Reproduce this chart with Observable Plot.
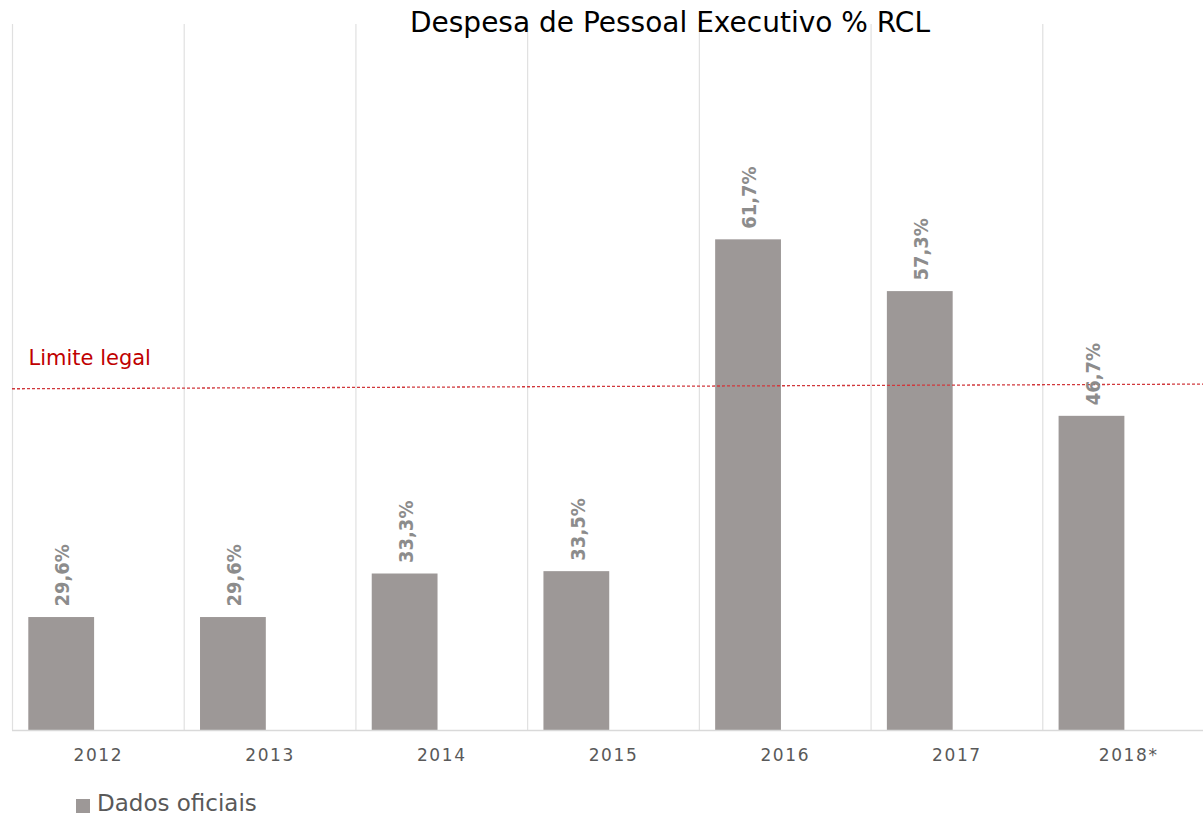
<!DOCTYPE html>
<html>
<head>
<meta charset="utf-8">
<script src="https://cdn.jsdelivr.net/npm/d3@7"></script>
<script src="https://cdn.jsdelivr.net/npm/@observablehq/plot@0.6"></script>
<style>
  html, body { margin: 0; padding: 0; background: #fff; overflow: hidden; }
  #wrap { position: relative; width: 1203px; height: 814px; }
  #title { position: absolute; top: 6px; left: 670px; transform: translateX(-50%);
    font-family: "DejaVu Sans", sans-serif; font-size: 28px; line-height: 34px;
    color: #000; white-space: nowrap; z-index: 2; }
  #legend { position: absolute; top: 792px; left: 76px; height: 22px; line-height: 22px; display: flex; align-items: center;
    font-family: "DejaVu Sans", sans-serif; font-size: 23px; color: #595959; }
  #legend .sw { width: 14px; height: 14px; background: #9d9897; margin-right: 7px; margin-top: 5px; }
  g[aria-label="x-axis tick label"] text { letter-spacing: 1.6px; }
</style>
</head>
<body>
<div id="wrap">
  <div id="chart"></div>
  <div id="title">Despesa de Pessoal Executivo % RCL</div>
  <div id="legend"><span class="sw"></span><span id="legtext"></span></div>
</div>
<script>
// Data
const years = ["2012", "2013", "2014", "2015", "2016", "2017", "2018*"];
const values = [29.6, 29.6, 33.3, 33.5, 61.7, 57.3, 46.7];
const valueLabels = ["29,6%", "29,6%", "33,3%", "33,5%", "61,7%", "57,3%", "46,7%"];
const yDomain = [20, 80];
const limitStart = 49.0;   // "Limite legal" line, value at the left edge
const limitEnd = 49.4;     // value at the right edge
const limitLabel = "Limite legal";
const seriesName = "Dados oficiais";

document.getElementById("legtext").textContent = seriesName;

const data = years.map((y, i) => ({year: y, value: values[i], label: valueLabels[i]}));

const W = 1203, H = 780;
const mL = 12, mR = -11;
const band = (W - mL - mR) / years.length;

const limitMark = Plot.ruleY([limitStart], {
  render: (index, scales, vals, dims) => {
    const g = d3.create("svg:g");
    g.append("line")
      .attr("x1", dims.marginLeft)
      .attr("x2", dims.width - dims.marginRight)
      .attr("y1", scales.y(limitStart))
      .attr("y2", scales.y(limitEnd))
      .attr("stroke", "#d0383c")
      .attr("stroke-width", 1.3)
      .attr("stroke-dasharray", "3,2");
    return g.node();
  }
});

const chart = Plot.plot({
  width: W,
  height: H,
  marginLeft: mL,
  marginRight: mR,
  marginTop: 24,
  marginBottom: 50,
  style: {background: "transparent", overflow: "visible"},
  x: {type: "band", domain: years, padding: 0, round: false, label: null},
  y: {domain: yDomain, clamp: true, axis: null},
  marks: [
    Plot.ruleX(years, {x: d => d, dx: -band / 2, stroke: "#e0e0e0", strokeWidth: 1.2}),
    Plot.barY(data, {x: "year", y: "value", fill: "#9d9897", insetLeft: 16.3, insetRight: band - 16.3 - 65.8}),
    Plot.ruleY([yDomain[0]], {stroke: "#d9d9d9", strokeWidth: 1.3}),
    limitMark,
    Plot.text([limitLabel], {x: () => years[0], y: () => limitStart, text: d => d, textAnchor: "start",
      dx: 16 - band / 2, dy: -31, fill: "#c00000", fontSize: 21, fontFamily: "DejaVu Sans"}),
    Plot.text(data, {x: "year", y: "value", text: "label", rotate: -90, textAnchor: "start",
      dx: 49 - band / 2 + 1.5, dy: -11, fill: "#8c8c8c", fontSize: 20, fontWeight: "bold",
      fontFamily: "DejaVu Sans Condensed"}),
    Plot.axisX({tickSize: 0, tickPadding: 18, fontSize: 17, fill: "#595959",
      fontFamily: "DejaVu Sans", label: null})
  ]
});
document.getElementById("chart").appendChild(chart);
</script>
</body>
</html>
